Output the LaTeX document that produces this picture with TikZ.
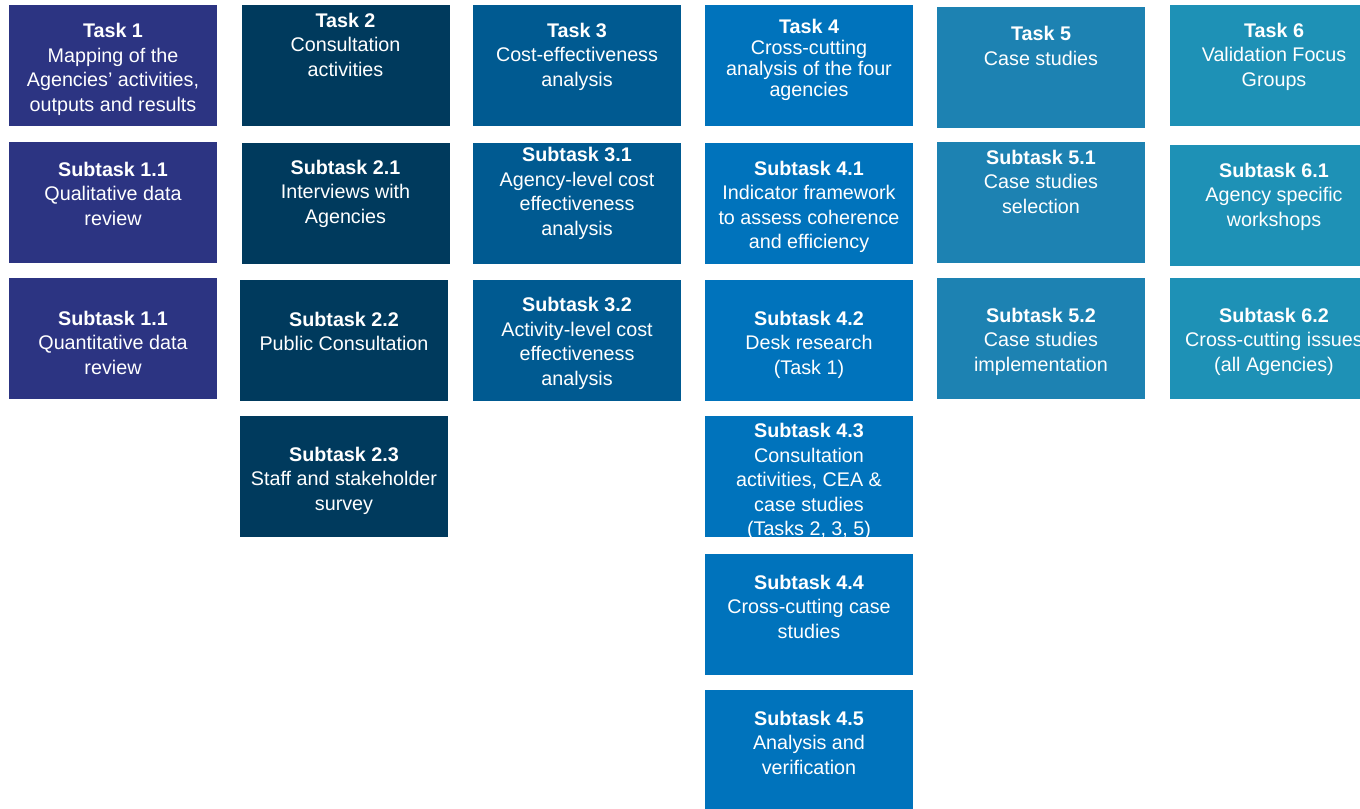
\documentclass[tikz,border=0pt]{standalone}
\usepackage{fontspec}
\setmainfont{Liberation Sans}

\definecolor{colone}{RGB}{44,52,130}
\definecolor{coltwo}{RGB}{0,58,93}
\definecolor{colthree}{RGB}{0,90,145}
\definecolor{colfour}{RGB}{0,115,188}
\definecolor{colfive}{RGB}{29,130,178}
\definecolor{colsix}{RGB}{30,145,182}

\tikzset{every picture/.style={line width=0.75pt}}
\tikzset{
	taskbox/.style={rectangle, draw=none, inner sep=0pt, minimum width=156pt, minimum height=90.75pt},
	tasktext/.style={text=white, align=center, inner sep=0pt, font=\fontsize{14.8}{18.4}\selectfont}}

\begin{document}
\begin{tikzpicture}[x=0.75pt,y=0.75pt,yscale=-1,xscale=1]
	\clip (0,0) rectangle (1360,808);

	%Shape: Rectangle [column 1]
	\node[taskbox, fill=colone] (task1) at (113,65.5) {};
	\node[taskbox, fill=colone] (sub11) at (113,202.5) {};
	\node[taskbox, fill=colone] (sub11b) at (113,338.5) {};
	%Shape: Rectangle [column 2]
	\node[taskbox, fill=coltwo] (task2) at (345.5,65.5) {};
	\node[taskbox, fill=coltwo] (sub21) at (345.5,203.5) {};
	\node[taskbox, fill=coltwo] (sub22) at (344,340.5) {};
	\node[taskbox, fill=coltwo] (sub23) at (344,476.5) {};
	%Shape: Rectangle [column 3]
	\node[taskbox, fill=colthree] (task3) at (577,65.5) {};
	\node[taskbox, fill=colthree] (sub31) at (577,203.5) {};
	\node[taskbox, fill=colthree] (sub32) at (577,340.5) {};
	%Shape: Rectangle [column 4]
	\node[taskbox, fill=colfour] (task4) at (809,65.5) {};
	\node[taskbox, fill=colfour] (sub41) at (809,203.5) {};
	\node[taskbox, fill=colfour] (sub42) at (809,340.5) {};
	\node[taskbox, fill=colfour] (sub43) at (809,476.5) {};
	\node[taskbox, fill=colfour] (sub44) at (809,614.5) {};
	\node[taskbox, fill=colfour] (sub45) at (809,750.5) {};
	%Shape: Rectangle [column 5]
	\node[taskbox, fill=colfive] (task5) at (1041,67.5) {};
	\node[taskbox, fill=colfive] (sub51) at (1041,202.5) {};
	\node[taskbox, fill=colfive] (sub52) at (1041,338.5) {};
	%Shape: Rectangle [column 6]
	\node[taskbox, fill=colsix] (task6) at (1274,65.5) {};
	\node[taskbox, fill=colsix] (sub61) at (1274,205.5) {};
	\node[taskbox, fill=colsix] (sub62) at (1274,338.5) {};

	% Text Node
	\node[tasktext] (task1txt) at (113,69.5) {\textbf{Task 1}\\Mapping of the\\Agencies’ activities,\\outputs and results};
	% Text Node
	\node[tasktext] (sub11txt) at (113,193.5) {\textbf{Subtask 1.1}\\Qualitative data\\review};
	% Text Node
	\node[tasktext] (sub11btxt) at (113,342.5) {\textbf{Subtask 1.1}\\Quantitative data\\review};
	% Text Node
	\node[tasktext] (task2txt) at (345.5,44.5) {\textbf{Task 2}\\Consultation\\activities};
	% Text Node
	\node[tasktext] (sub21txt) at (345.5,193.5) {\textbf{Subtask 2.1}\\Interviews with\\Agencies};
	% Text Node
	\node[tasktext] (sub22txt) at (344,331.5) {\textbf{Subtask 2.2}\\Public Consultation};
	% Text Node
	\node[tasktext] (sub23txt) at (344,480.5) {\textbf{Subtask 2.3}\\Staff and stakeholder\\survey};
	% Text Node
	\node[tasktext] (task3txt) at (577,56.5) {\textbf{Task 3}\\Cost-effectiveness\\analysis};
	% Text Node
	\node[tasktext] (sub31txt) at (577,193.5) {\textbf{Subtask 3.1}\\Agency-level cost\\effectiveness\\analysis};
	% Text Node
	\node[tasktext] (sub32txt) at (577,343.5) {\textbf{Subtask 3.2}\\Activity-level cost\\effectiveness\\analysis};
	% Text Node
	\node[tasktext, font=\fontsize{14.8}{15.8}\selectfont] (task4txt) at (809,60) {\textbf{Task 4}\\Cross-cutting\\analysis of the four\\agencies};
	% Text Node
	\node[tasktext] (sub41txt) at (809,207) {\textbf{Subtask 4.1}\\Indicator framework\\to assess coherence\\and efficiency};
	% Text Node
	\node[tasktext] (sub42txt) at (809,344.5) {\textbf{Subtask 4.2}\\Desk research\\(Task 1)};
	% Text Node
	\node[tasktext] (sub43txt) at (809,481.5) {\textbf{Subtask 4.3}\\Consultation\\activities, CEA \&\\case studies\\(Tasks 2, 3, 5)};
	% Text Node
	\node[tasktext] (sub44txt) at (809,606.5) {\textbf{Subtask 4.4}\\Cross-cutting case\\studies};
	% Text Node
	\node[tasktext] (sub45txt) at (809,742.5) {\textbf{Subtask 4.5}\\Analysis and\\verification};
	% Text Node
	\node[tasktext] (task5txt) at (1041,46) {\textbf{Task 5}\\Case studies};
	% Text Node
	\node[tasktext] (sub51txt) at (1041,181.5) {\textbf{Subtask 5.1}\\Case studies\\selection};
	% Text Node
	\node[tasktext] (sub52txt) at (1041,341.5) {\textbf{Subtask 5.2}\\Case studies\\implementation};
	% Text Node
	\node[tasktext] (task6txt) at (1274,56.5) {\textbf{Task 6}\\Validation Focus\\Groups};
	% Text Node
	\node[tasktext] (sub61txt) at (1274,196.5) {\textbf{Subtask 6.1}\\Agency specific\\workshops};
	% Text Node
	\node[tasktext] (sub62txt) at (1274,341.5) {\textbf{Subtask 6.2}\\Cross-cutting issues\\(all Agencies)};

\end{tikzpicture}
\end{document}
